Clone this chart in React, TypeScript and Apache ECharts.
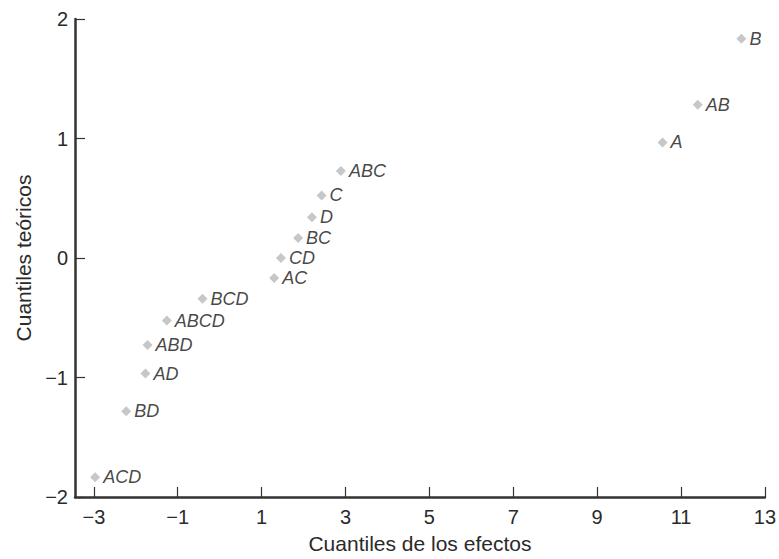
import React, { useEffect, useRef } from "react";
import * as echarts from "echarts";

const effectNames = ["ACD", "BD", "AD", "ABD", "ABCD", "BCD", "AC", "CD", "BC", "D", "C", "ABC", "A", "AB", "B"];
const effectQuantiles = [-2.97, -2.23, -1.77, -1.72, -1.26, -0.41, 1.3, 1.46, 1.87, 2.2, 2.43, 2.89, 10.56, 11.4, 12.44];
const theoreticalQuantiles = [-1.834, -1.282, -0.967, -0.728, -0.524, -0.341, -0.168, 0, 0.168, 0.341, 0.524, 0.728, 0.967, 1.282, 1.834];
const xTickValues = [-3, -1, 1, 3, 5, 7, 9, 11, 13];
const xAxisTitle = "Cuantiles de los efectos";
const yAxisTitle = "Cuantiles teóricos";

const FONT = "'Liberation Sans', Arial, Helvetica, sans-serif";
const fmt = (v: number) => String(v).replace("-", "\u2212");

export default function App() {
  const ref = useRef<HTMLDivElement>(null);
  useEffect(() => {
    if (!ref.current) return;
    const chart = echarts.init(ref.current, undefined, { renderer: "svg" });
    const data = effectNames.map((n, i) => ({ name: n, value: [effectQuantiles[i], theoreticalQuantiles[i]] }));
    chart.setOption({
      animation: false,
      backgroundColor: "#ffffff",
      textStyle: { fontFamily: FONT },
      grid: { left: 75, right: 14, top: 19, bottom: 58, containLabel: false },
      xAxis: {
        type: "value",
        min: -3.45,
        max: 13,
        name: xAxisTitle,
        nameLocation: "middle",
        nameGap: 36,
        nameTextStyle: { fontFamily: FONT, fontSize: 21, color: "#2a2a2a" },
        axisLine: { show: true, onZero: false, lineStyle: { color: "#333", width: 2.5 } },
        axisTick: { show: true, inside: true, length: 10, customValues: xTickValues, lineStyle: { color: "#333", width: 1.2 } },
        axisLabel: { customValues: xTickValues, formatter: (v: number) => fmt(v), fontFamily: FONT, fontSize: 20, color: "#2a2a2a", margin: 10 },
        splitLine: { show: false },
      },
      yAxis: {
        type: "value",
        min: -2,
        max: 2,
        interval: 1,
        name: yAxisTitle,
        nameLocation: "middle",
        nameGap: 40,
        nameTextStyle: { fontFamily: FONT, fontSize: 21, color: "#2a2a2a" },
        axisLine: { show: true, onZero: false, lineStyle: { color: "#333", width: 2.5 } },
        axisTick: { show: true, inside: true, length: 10, lineStyle: { color: "#333", width: 1.2 } },
        axisLabel: { formatter: (v: number) => fmt(v), fontFamily: FONT, fontSize: 20, color: "#2a2a2a", margin: 7 },
        splitLine: { show: false },
      },
      series: [
        {
          type: "scatter",
          symbol: "diamond",
          symbolSize: 10,
          itemStyle: { color: "#b9b9b9" },
          data,
          label: {
            show: true,
            position: "right",
            distance: 3,
            formatter: (p: any) => p.name,
            fontFamily: FONT,
            fontStyle: "italic",
            fontSize: 18,
            color: "#151515",
          },
        },
      ],
    });
    return () => chart.dispose();
  }, []);
  return <div ref={ref} style={{ position: "fixed", left: 0, top: 0, width: 779, height: 559 }} />;
}
